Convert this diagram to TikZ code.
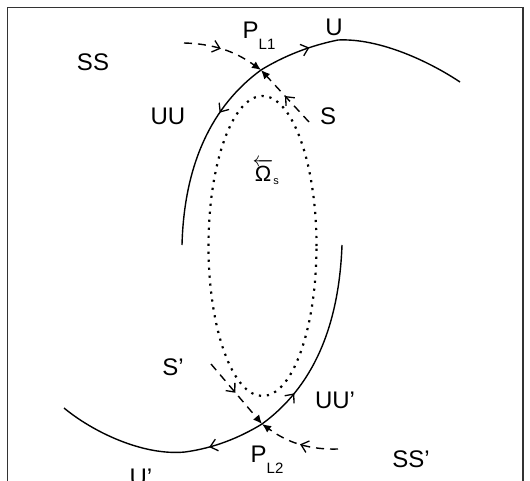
\documentclass[tikz,border=0pt]{standalone}
\usepackage{fontspec}
\setmainfont{Liberation Sans}
\usepackage{amsmath}
\usetikzlibrary{arrows.meta, decorations.markings}

\begin{document}
\begin{tikzpicture}[x=1pt, y=-1pt,
  manifold/.style={line width=1.4pt},
  stable/.style={line width=1.4pt, dash pattern=on 8pt off 6pt, -{Latex[length=9pt,width=8pt]}},
  cycle/.style={line width=2.2pt, dash pattern=on 2.2pt off 5.8pt},
  midarrow/.style={postaction={decorate}, decoration={markings,
      mark=at position #1 with {\arrow{Straight Barb[length=7pt,width=12pt,line width=1.3pt]}}}},
  lbl/.style={font=\fontsize{24}{27}\selectfont, inner sep=0pt},
]
  \useasboundingbox (0,0) rectangle (530,481);
  % frame
  \draw[line width=1.4pt, black!80] (7.5,481) -- (7.5,7.5) -- (523,7.5) -- (523,481);

  % saddle points and manifold ends
  \coordinate (PL1) at (261,70);
  \coordinate (PL2) at (262,424);
  \coordinate (uu end) at (182,245);
  \coordinate (u end) at (460,82);
  \coordinate (uu' end) at (342,245);
  \coordinate (u' end) at (64,408);

  % unstable manifolds
  \draw[manifold, midarrow=0.3] (PL1) .. controls (211.7,106) and (184.1,164.5) .. (uu end);
  \draw[manifold, midarrow=0.25] (PL1) .. controls (283.1,56.5) and (308.6,46) .. (338,40)
    .. controls (380,38) and (430,62) .. (u end);
  \draw[manifold, midarrow=0.22] (PL2) .. controls (311.3,388) and (338.9,329.5) .. (uu' end);
  \draw[manifold, midarrow=0.27] (PL2) .. controls (239.9,437.5) and (214.4,448) .. (185,452)
    .. controls (143,456) and (93,432) .. (u' end);

  % stable manifolds
  \coordinate (ss start) at (184,43);
  \coordinate (s start) at (309,122);
  \coordinate (s' start) at (211,364);
  \coordinate (ss' start) at (338,449);
  \draw[stable, midarrow=0.45] (ss start) .. controls (220,44) and (240,55) .. (PL1);
  \draw[stable, midarrow=0.5] (s start) -- (PL1);
  \draw[stable, midarrow=0.48] (s' start) -- (PL2);
  \draw[stable, midarrow=0.47] (ss' start) .. controls (303,450) and (283,439) .. (PL2);

  % periodic orbit
  \draw[cycle] (262.5,246) ellipse [x radius=54pt, y radius=150pt];

  % labels
  \node[lbl] (pl1 label) at (259,36) {P\raisebox{-11pt}{\fontsize{15}{15}\selectfont L1}};
  \node[lbl] (pl2 label) at (267,460) {P\raisebox{-11pt}{\fontsize{15}{15}\selectfont L2}};
  \node[lbl] (U) at (334,27) {U};
  \node[lbl] (SS) at (93,62) {SS};
  \node[lbl] (UU) at (168,116) {UU};
  \node[lbl] (S) at (328,116) {S};
  \node[inner sep=0pt, font=\fontsize{22}{24}\selectfont] (omega) at (266,172)
    {$\overleftarrow{\text{Ω}}_{\text{\fontsize{11}{11}\selectfont s}}$};
  \node[lbl] (S') at (173,367) {S’};
  \node[lbl] (UU') at (335,400) {UU’};
  \node[lbl] (SS') at (411,459) {SS’};
  \node[lbl] (U') at (141,477) {U’};
\end{tikzpicture}
\end{document}
